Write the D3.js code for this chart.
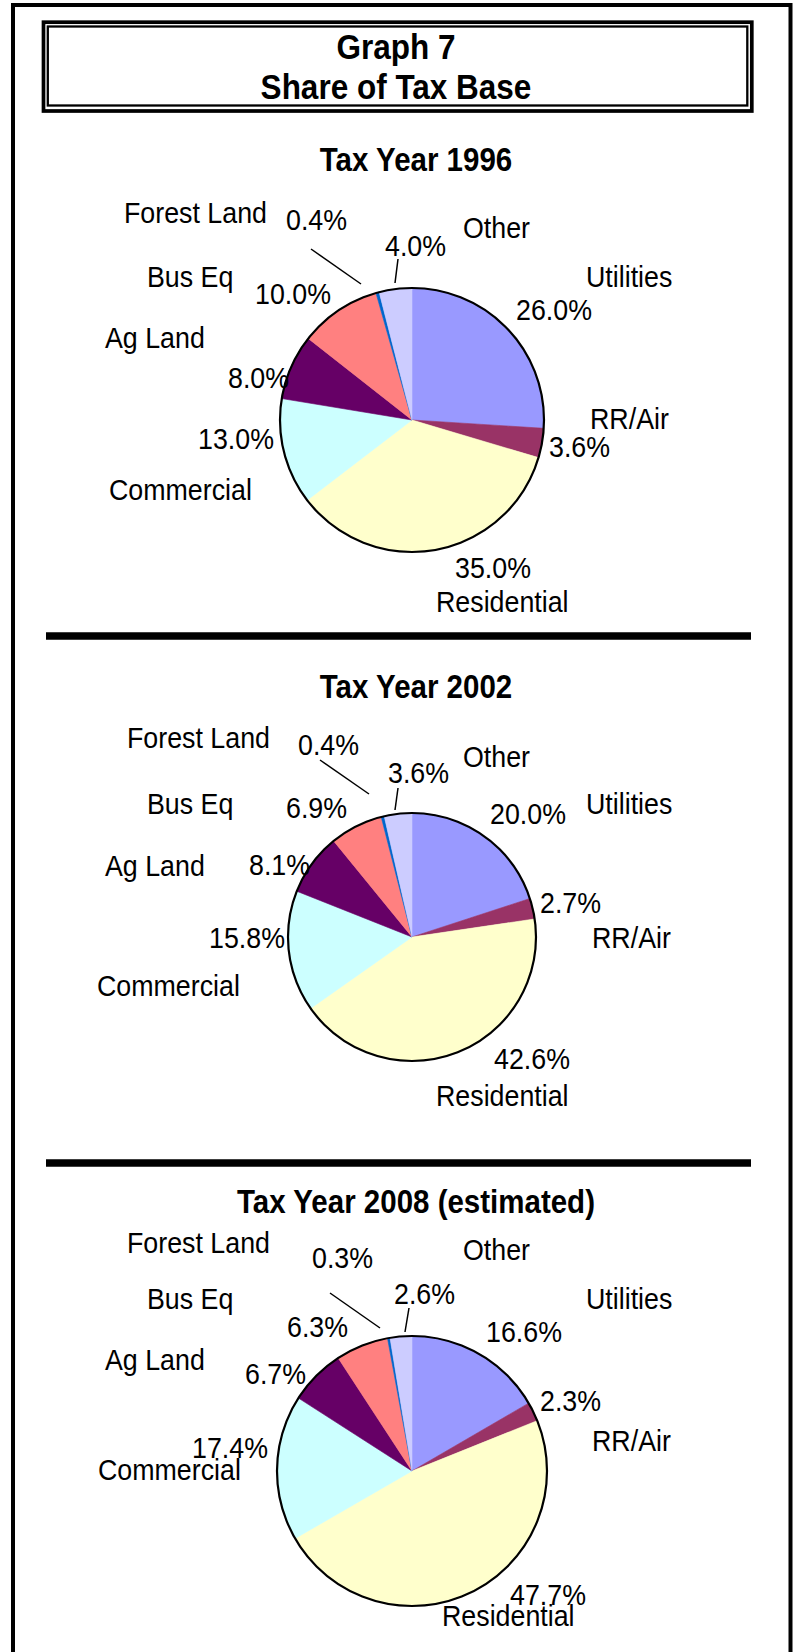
<!DOCTYPE html>
<html>
<head>
<meta charset="utf-8">
<script src="https://cdn.jsdelivr.net/npm/d3@7/dist/d3.min.js"></script>
<style>
  html, body { margin: 0; padding: 0; background: #fff; }
  svg { display: block; }
  text { font-family: "Liberation Sans", Arial, Helvetica, sans-serif; fill: #000; }
</style>
</head>
<body>
<svg id="chart" width="798" height="1652"></svg>
<script>
// Property classes, in pie order (clockwise from 12 o'clock)
const categories = ["Utilities", "RR/Air", "Residential", "Commercial", "Ag Land", "Bus Eq", "Forest Land", "Other"];
const sliceColors = ["#9999ff", "#993366", "#ffffcc", "#ccffff", "#660066", "#ff8080", "#0066cc", "#ccccff"];

// Panel headings
const panelTitles = ["Tax Year 1996", "Tax Year 2002", "Tax Year 2008 (estimated)"];

// Share of the tax base, percent
const share1996 = [26.0, 3.6, 35.0, 13.0, 8.0, 10.0, 0.4, 4.0];
const share2002 = [20.0, 2.7, 42.6, 15.8, 8.1, 6.9, 0.4, 3.6];
const share2008 = [16.6, 2.3, 47.7, 17.4, 6.7, 6.3, 0.3, 2.6];

const shares = [share1996, share2002, share2008];

// Hand-placed label layout for each panel: pie centre/radius, heading baseline,
// category-name and percentage anchors (left x, baseline y), leader lines.
const panelLayout = [
  {
    cx: 412, cy: 420, r: 132, titleY: 171,
    names: [[586, 287], [590, 429], [436, 612], [109, 500], [105, 348], [147, 287], [124, 223], [463, 238]],
    pcts:  [[516, 320], [549, 457], [455, 578], [198, 449], [228, 388], [255, 304], [286, 230], [385, 256]],
    leaders: [[[311, 249], [361, 284]], [[398, 259], [395, 283]]]
  },
  {
    cx: 412, cy: 937, r: 124, titleY: 698,
    names: [[586, 814], [592, 948], [436, 1106], [97, 996], [105, 876], [147, 814], [127, 748], [463, 767]],
    pcts:  [[490, 824], [540, 913], [494, 1069], [209, 948], [249, 875], [286, 818], [298, 755], [388, 783]],
    leaders: [[[320, 760], [369, 794]], [[398, 788], [395, 810]]]
  },
  {
    cx: 412, cy: 1471, r: 135, titleY: 1213,
    names: [[586, 1309], [592, 1451], [442, 1626], [98, 1480], [105, 1370], [147, 1309], [127, 1253], [463, 1260]],
    pcts:  [[486, 1342], [540, 1411], [510, 1605], [192, 1458], [245, 1384], [287, 1337], [312, 1268], [394, 1304]],
    leaders: [[[330, 1293], [380, 1328]], [[409, 1308], [405, 1332]]]
  }
];

const svg = d3.select("#chart");
const W = 798, H = 1652;
const TEXT_STRETCH = 1.1; // glyphs are drawn a little taller than wide

const color = d3.scaleOrdinal().domain(categories).range(sliceColors);
const fmtPct = v => d3.format(".1f")(v) + "%";

// Place a text with its baseline at (x, y), stretched vertically
function placeText(sel, x, y) {
  return sel.attr("x", 0).attr("y", 0)
    .attr("transform", `translate(${x},${y}) scale(1,${TEXT_STRETCH})`);
}

// Outer page frame (open at the bottom)
svg.append("path")
  .attr("d", `M13,${H + 5} L13,5 L790.5,5 L790.5,${H + 5}`)
  .attr("fill", "none")
  .attr("stroke", "#000")
  .attr("stroke-width", 4);

// Double-ruled heading box
svg.append("rect")
  .attr("x", 43.5).attr("y", 22.2)
  .attr("width", 751.8 - 43.5).attr("height", 111 - 22.2)
  .attr("fill", "none").attr("stroke", "#000").attr("stroke-width", 3.7);
svg.append("rect")
  .attr("x", 47.8).attr("y", 26.5)
  .attr("width", 747.3 - 47.8).attr("height", 105.5 - 26.5)
  .attr("fill", "none").attr("stroke", "#000").attr("stroke-width", 2.3);

placeText(svg.append("text"), 396, 59)
  .attr("text-anchor", "middle")
  .style("font-size", "31.5px").style("font-weight", "bold")
  .text("Graph 7");
placeText(svg.append("text"), 396, 99)
  .attr("text-anchor", "middle")
  .style("font-size", "31.5px").style("font-weight", "bold")
  .text("Share of Tax Base");

// Heavy rules between panels
[636, 1163].forEach(y => {
  svg.append("line")
    .attr("x1", 46).attr("x2", 751)
    .attr("y1", y).attr("y2", y)
    .attr("stroke", "#000").attr("stroke-width", 7.5);
});

const pie = d3.pie().sort(null).value(d => d.value);

shares.forEach((values, i) => {
  const L = panelLayout[i];
  const data = categories.map((c, k) => ({ category: c, value: values[k] }));
  const arcs = pie(data);
  const arc = d3.arc().innerRadius(0).outerRadius(L.r);

  const g = svg.append("g").attr("class", "panel");

  placeText(g.append("text"), 416, L.titleY)
    .attr("text-anchor", "middle")
    .style("font-size", "29.5px").style("font-weight", "bold")
    .text(panelTitles[i]);

  const pg = g.append("g").attr("transform", `translate(${L.cx},${L.cy})`);
  pg.selectAll("path.slice")
    .data(arcs)
    .join("path")
    .attr("class", "slice")
    .attr("d", arc)
    .attr("fill", d => color(d.data.category))
    .attr("stroke", d => color(d.data.category))
    .attr("stroke-width", 0.6);

  // Outline of the whole pie
  pg.append("circle")
    .attr("r", L.r)
    .attr("fill", "none")
    .attr("stroke", "#000")
    .attr("stroke-width", 2.2);

  // Leader lines for the two thin slices at the top
  L.leaders.forEach(seg => {
    g.append("line")
      .attr("x1", seg[0][0]).attr("y1", seg[0][1])
      .attr("x2", seg[1][0]).attr("y2", seg[1][1])
      .attr("stroke", "#000").attr("stroke-width", 1.5);
  });

  // Category names
  g.selectAll("text.name")
    .data(data)
    .join("text")
    .attr("class", "name")
    .each(function (d, k) { placeText(d3.select(this), L.names[k][0], L.names[k][1]); })
    .style("font-size", "26.8px")
    .text(d => d.category);

  // Percentages
  g.selectAll("text.pct")
    .data(data)
    .join("text")
    .attr("class", "pct")
    .each(function (d, k) { placeText(d3.select(this), L.pcts[k][0], L.pcts[k][1]); })
    .style("font-size", "26.8px")
    .text(d => fmtPct(d.value));
});
</script>
</body>
</html>
